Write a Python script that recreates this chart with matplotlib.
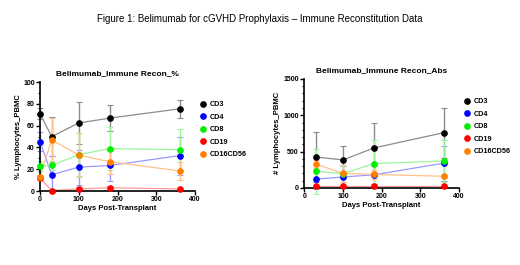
import matplotlib.pyplot as plt
import numpy as np

plt.rcParams['font.family'] = ['Liberation Sans', 'DejaVu Sans']

# ---- data: percent of PBMC ----
days_pct = [0, 30, 100, 180, 360]
cd3_pct = [71, 50, 62.5, 67, 75.5]
cd3_pct_err = [5, 18, 19, 12, 8.5]
cd4_pct = [45.5, 15, 22, 23.5, 32.5]
cd4_pct_err = [8.5, 17, 16, 14.5, 17.5]
cd8_pct = [23, 23.5, 33.5, 39, 38]
cd8_pct_err = [5, 4, 19.5, 19.5, 19]
cd19_pct = [12, 0.5, 2, 3, 2]
cd19_pct_err = [2, 1, 1.5, 2, 1]
nk_pct = [13, 47, 33, 27, 18.5]
nk_pct_err = [2, 20.5, 20, 11, 8.5]

# ---- data: absolute counts ----
days_abs = [30, 100, 180, 360]
cd3_abs = [425, 385, 550, 760]
cd3_abs_err = [345, 190, 350, 345]
cd4_abs = [120, 150, 180, 340]
cd4_abs_err = [130, 150, 120, 240]
cd8_abs = [230, 195, 335, 370]
cd8_abs_err = [310, 110, 330, 295]
cd19_abs = [25, 25, 25, 25]
cd19_abs_err = [10, 10, 10, 10]
nk_abs = [330, 200, 185, 160]
nk_abs_err = [60, 120, 65, 20]

names = ['CD3', 'CD4', 'CD8', 'CD19', 'CD16CD56']
colors = ['#000000', '#0000ff', '#00ee00', '#ff0000', '#ff8000']
line_colors = ['#8c8c8c', '#9a9aff', '#9af59a', '#ff9a9a', '#ffc08a']

pct_series = [(cd3_pct, cd3_pct_err), (cd4_pct, cd4_pct_err), (cd8_pct, cd8_pct_err),
              (cd19_pct, cd19_pct_err), (nk_pct, nk_pct_err)]
abs_series = [(cd3_abs, cd3_abs_err), (cd4_abs, cd4_abs_err), (cd8_abs, cd8_abs_err),
              (cd19_abs, cd19_abs_err), (nk_abs, nk_abs_err)]


def draw_panel(ax, days, series, title, ylabel, ymax, ystep, yminor, ylab_x):
    for (vals, errs), name, c, lc in zip(series, names, colors, line_colors):
        eb = ax.errorbar(days, vals, yerr=errs, color=lc, ecolor=lc, elinewidth=1.0,
                         capsize=2, capthick=0.8, linewidth=0.9, zorder=2)
        for art in eb.lines[0:1] + tuple(eb.lines[1]) + tuple(eb.lines[2]):
            art.set_clip_on(False)
        ax.plot(days, vals, 'o', color=c, markersize=3.8, label=name, zorder=3, clip_on=False)
    ax.set_xlim(0, 400)
    ax.set_ylim(0, ymax)
    ax.set_xticks(np.arange(0, 401, 100))
    ax.set_yticks(np.arange(0, ymax + 1, ystep))
    ax.set_yticks(np.arange(0, ymax + 1, yminor), minor=True)
    for s in ['top', 'right']:
        ax.spines[s].set_visible(False)
    for s in ['left', 'bottom']:
        ax.spines[s].set_linewidth(1.2)
    ax.tick_params(axis='both', which='major', labelsize=5, width=1, length=3, pad=0.8)
    ax.tick_params(axis='y', which='minor', width=0.8, length=1.8)
    for lab in ax.get_xticklabels() + ax.get_yticklabels():
        lab.set_fontweight('bold')
    ax.set_title(title, fontsize=6, fontweight='bold', pad=5)
    ax.set_xlabel('Days Post-Transplant', fontsize=5.5, fontweight='bold', labelpad=1.5)
    ax.set_ylabel(ylabel, fontsize=5.5, fontweight='bold')
    ax.yaxis.set_label_coords(ylab_x, 0.5)
    leg = ax.legend(loc='upper left', bbox_to_anchor=(1.02, 0.85), frameon=False,
                    fontsize=5.2, handlelength=0.6, handletextpad=0.6, labelspacing=0.75,
                    borderaxespad=0)
    for t in leg.get_texts():
        t.set_fontweight('bold')


fig = plt.figure(figsize=(5.2, 2.65), dpi=100)
fig.text(0.5, 0.93, 'Figure 1: Belimumab for cGVHD Prophylaxis \u2013 Immune Reconstitution Data',
         ha='center', va='center', fontsize=7)

ax1 = fig.add_axes([0.077, 0.279, 0.298, 0.411])
draw_panel(ax1, days_pct, pct_series, 'Belimumab_Immune Recon_%', '% Lymphocytes_PBMC',
           100, 20, 10, -0.115)

ax2 = fig.add_axes([0.585, 0.291, 0.298, 0.411])
draw_panel(ax2, days_abs, abs_series, 'Belimumab_Immune Recon_Abs', '# Lymphocytes_PBMC',
           1500, 500, 100, -0.15)

fig.savefig('out.png', dpi=100)
